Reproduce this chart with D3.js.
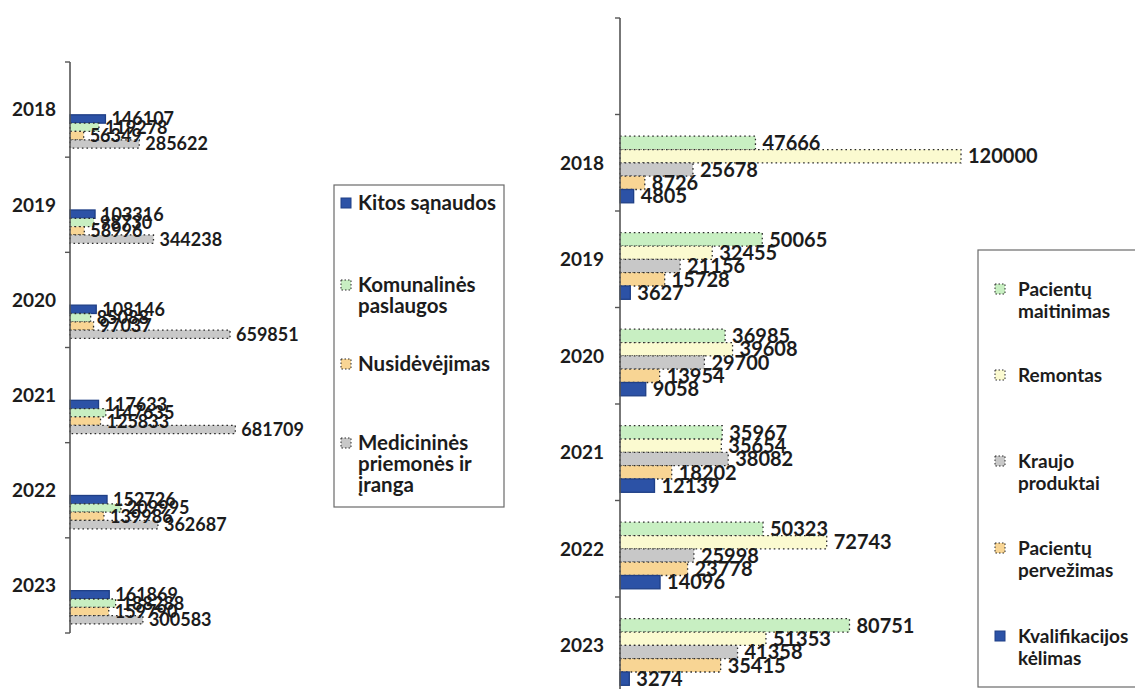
<!DOCTYPE html>
<html><head><meta charset="utf-8">
<script src="https://cdn.jsdelivr.net/npm/d3@7"></script>
<style>
html,body{margin:0;padding:0;background:#fff;}
svg{display:block;font-family:Lato,"Open Sans",sans-serif;font-weight:700;}
</style></head>
<body><svg id="c" width="1135" height="689"></svg>
<script>
// ---------- data ----------
const leftYears = ["2018","2019","2020","2021","2022","2023"];
const leftSeries = ["Kitos sąnaudos","Komunalinės paslaugos","Nusidėvėjimas","Medicininės priemonės ir įranga"];
const leftLegendLines = [["Kitos sąnaudos"],["Komunalinės","paslaugos"],["Nusidėvėjimas"],["Medicininės","priemonės ir","įranga"]];
const kitosSanaudos = [146107,103316,108146,117633,152726,161869];
const komunalinesPaslaugos = [119278,98730,85088,147635,209995,188288];
const nusidevejimas = [56349,58996,97037,125833,139986,159790];
const medicininesPriemones = [285622,344238,659851,681709,362687,300583];

const rightCategories = ["","2018","2019","2020","2021","2022","2023"];
const rightSeries = ["Pacientų maitinimas","Remontas","Kraujo produktai","Pacientų pervežimas","Kvalifikacijos kėlimas"];
const rightLegendLines = [["Pacientų","maitinimas"],["Remontas"],["Kraujo","produktai"],["Pacientų","pervežimas"],["Kvalifikacijos","kėlimas"]];
const pacientuMaitinimas = [47666,50065,36985,35967,50323,80751];
const remontas = [120000,32455,39608,35654,72743,51353];
const kraujoProduktai = [25678,21156,29700,38082,25998,41358];
const pacientuPervezimas = [8726,15728,13954,18202,23778,35415];
const kvalifikacijosKelimas = [4805,3627,9058,12139,14096,3274];

// ---------- styles ----------
const STY = {
  blue:{fill:"#2c52a6",stroke:"#1f3f86",dash:null},
  green:{fill:"#c8efc2",stroke:"#2b2b2b",dash:"1.6,3"},
  yellow:{fill:"#fbfad0",stroke:"#2b2b2b",dash:"1.6,3"},
  orange:{fill:"#f8d594",stroke:"#2b2b2b",dash:"1.6,3"},
  gray:{fill:"#c8c8c8",stroke:"#2b2b2b",dash:"1.6,3"}
};
const TXT = "#1c1c1c";
const H = 689;
const svg = d3.select("#c");

function drawChart(o){
  const g = svg.append("g");
  const y = d3.scaleBand().domain(o.cats).range([o.top, o.bottom]).padding(0);
  const yi = d3.scaleBand().domain(o.series.map((d,i)=>i))
      .range([y.bandwidth()*o.inner[0], y.bandwidth()*o.inner[1]]).padding(0);
  const x = d3.scaleLinear().domain(o.xDomain).range([o.axisX, o.xEnd]);

  // bars
  o.values.forEach((vals,si)=>{
    const st = STY[o.colors[si]];
    vals.forEach((v,ci)=>{
      const cat = o.dataCats[ci];
      const y0 = y(cat)+yi(si);
      g.append("rect")
        .attr("x", x(0)).attr("y", y0)
        .attr("width", x(v)-x(0)).attr("height", yi.bandwidth())
        .attr("fill", st.fill)
        .attr("stroke", st.stroke).attr("stroke-width", 1.3)
        .attr("stroke-dasharray", st.dash);
    });
  });
  // labels
  o.values.forEach((vals,si)=>{
    vals.forEach((v,ci)=>{
      const cat = o.dataCats[ci];
      const cy = Math.min(y(cat)+yi(si)+yi.bandwidth()/2, H - o.labelSize*0.45);
      g.append("text")
        .attr("x", x(v)+o.labelGap)
        .attr("y", cy)
        .attr("dy","0.36em")
        .attr("font-size", o.labelSize)
        .attr("fill", TXT)
        .text(v);
    });
  });
  // axis
  g.append("line").attr("x1",o.axisX).attr("x2",o.axisX)
    .attr("y1",o.top).attr("y2",o.bottom)
    .attr("stroke","#555").attr("stroke-width",1.6);
  const bounds = o.cats.map(c=>y(c)).concat([o.bottom]);
  bounds.forEach(b=>{
    g.append("line").attr("x1",o.axisX-5).attr("x2",o.axisX)
      .attr("y1",b).attr("y2",b).attr("stroke","#555").attr("stroke-width",1.4);
  });
  o.dataCats.forEach(c=>{
    g.append("text").attr("x",o.axisX-o.yearGap).attr("y",y(c)+y.bandwidth()/2+o.yearDy)
      .attr("dy","0.36em").attr("text-anchor","end")
      .attr("font-size",o.yearSize).attr("fill",TXT).text(c);
  });
}

function drawLegend(o){
  const g = svg.append("g");
  g.append("rect").attr("x",o.x).attr("y",o.y).attr("width",o.w).attr("height",o.h)
    .attr("fill","none").attr("stroke","#6a6a6a").attr("stroke-width",1.2);
  o.lines.forEach((lines,i)=>{
    const st = STY[o.colors[i]];
    const cy = o.rows[i];
    g.append("rect").attr("x",o.swX).attr("y",cy-5).attr("width",10).attr("height",10)
      .attr("fill",st.fill).attr("stroke",st.stroke).attr("stroke-width",1)
      .attr("stroke-dasharray",st.dash?"1.5,2":null);
    lines.forEach((t,k)=>{
      g.append("text").attr("x",o.txX).attr("y",cy+k*o.lh).attr("dy","0.36em")
        .attr("font-size",o.size).attr("fill",TXT).text(t);
    });
  });
}

drawChart({
  cats: leftYears, dataCats: leftYears, series: leftSeries,
  values:[kitosSanaudos,komunalinesPaslaugos,nusidevejimas,medicininesPriemones],
  colors:["blue","green","orange","gray"],
  top:62, bottom:633, inner:[0.555,0.905],
  axisX:70, xDomain:[0,700000], xEnd:70+700000*0.0002425,
  labelGap:6, labelSize:18, yearGap:14, yearSize:19, yearDy:0
});
drawChart({
  cats: rightCategories, dataCats: rightCategories.slice(1), series: rightSeries,
  values:[pacientuMaitinimas,remontas,kraujoProduktai,pacientuPervezimas,kvalifikacijosKelimas],
  colors:["green","yellow","gray","orange","blue"],
  top:18, bottom:18+7*96.5, inner:[0.225,0.915],
  axisX:620, xDomain:[0,120000], xEnd:961,
  labelGap:7, labelSize:20, yearGap:16, yearSize:19, yearDy:0
});
drawLegend({
  x:334, y:185, w:170, h:322, swX:341, txX:358, size:20.5, lh:21,
  lines:leftLegendLines, colors:["blue","green","orange","gray"],
  rows:[203,285,364,443]
});
drawLegend({
  x:978, y:250, w:170, h:437, swX:995, txX:1018, size:19, lh:22,
  lines:rightLegendLines, colors:["green","yellow","gray","orange","blue"],
  rows:[289,375,461,548,636]
});
</script></body></html>
